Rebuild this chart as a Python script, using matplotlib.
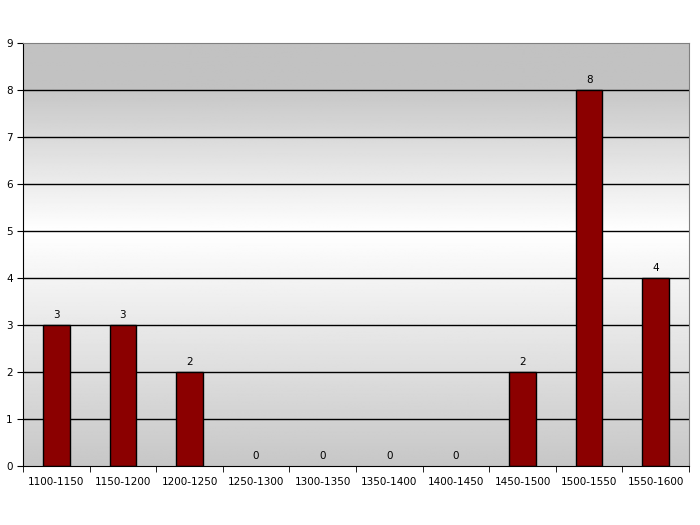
import numpy as np
import matplotlib
matplotlib.use("Agg")
import matplotlib.pyplot as plt

categories = ["1100-1150", "1150-1200", "1200-1250", "1250-1300", "1300-1350",
              "1350-1400", "1400-1450", "1450-1500", "1500-1550", "1550-1600"]
counts = [3, 3, 2, 0, 0, 0, 0, 2, 8, 4]

fig = plt.figure(figsize=(7, 5.25), dpi=100)
ax = fig.add_axes([23 / 700, 1 - 466 / 525, 666 / 700, 423 / 525])

n = len(categories)
ax.set_xlim(-0.5, n - 0.5)
ax.set_ylim(0, 9)

# background: gray at the top band, white in the middle, gray at the bottom
yy = np.linspace(0, 9, 400)
shade = np.where(yy >= 8, 0.76,
                 np.where(yy >= 5, 1.0 - (yy - 5) / 3 * 0.22,
                          0.78 + yy / 5 * 0.22))
img = np.repeat(shade[:, None], 2, axis=1)
ax.imshow(img, cmap="gray", vmin=0, vmax=1, aspect="auto",
          extent=(-0.5, n - 0.5, 0, 9), origin="lower", zorder=0)

for y in range(1, 9):
    ax.axhline(y, color="black", lw=1, zorder=1)

x = np.arange(n)
widths = [1 if c > 0 else 0 for c in counts]
ax.bar(x, counts, width=0.4, color="#8b0000", edgecolor="black",
       linewidth=widths, zorder=2)
for xi, c in zip(x, counts):
    ax.text(xi, c + 0.1, str(c), ha="center", va="bottom", fontsize=7.5, zorder=3)

ax.set_yticks(range(0, 10))
ax.set_xticks(x)
ax.set_xticklabels(categories, fontsize=7.5)
ax.set_xticks(np.arange(-0.5, n), minor=True)
ax.tick_params(axis="x", which="major", length=0, pad=8)
ax.tick_params(axis="x", which="minor", length=4, direction="out")
ax.tick_params(axis="y", labelsize=7.5, length=4, direction="out")

ax.spines["top"].set_color("gray")
ax.spines["right"].set_color("gray")
ax.spines["left"].set_color("black")
ax.spines["bottom"].set_color("black")

fig.savefig("out.png", dpi=100)
